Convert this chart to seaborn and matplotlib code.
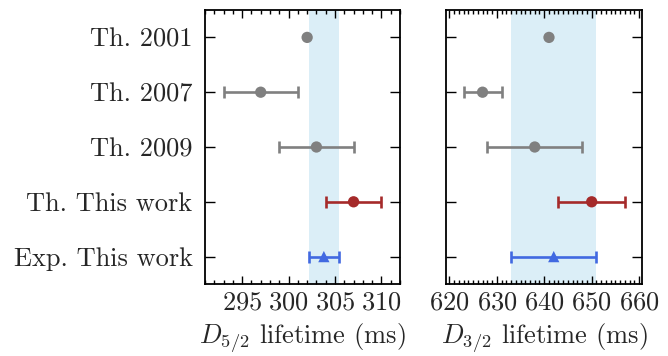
import numpy as np
import pandas as pd
import matplotlib
matplotlib.use("Agg")
import matplotlib.pyplot as plt
import seaborn as sns
from matplotlib.ticker import MultipleLocator

labels = ["Th. 2001", "Th. 2007", "Th. 2009", "Th. This work", "Exp. This work"]
d52_vals = [302.0, 297.0, 303.0, 307.0, 303.8]
d52_errs = [0.0, 4.0, 4.0, 3.0, 1.6]
d32_vals = [641.0, 627.0, 638.0, 650.0, 642.0]
d32_errs = [0.0, 4.0, 10.0, 7.0, 9.0]
colors = ["#808080", "#808080", "#808080", "#a52a2a", "#4169e1"]
markers = ["o", "o", "o", "o", "^"]

sns.set_theme(style="ticks")
plt.rcParams["font.family"] = ["cmr10", "DejaVu Serif"]
plt.rcParams["mathtext.fontset"] = "cm"
plt.rcParams["axes.formatter.use_mathtext"] = True
plt.rcParams["font.size"] = 19

fig = plt.figure(figsize=(6.68, 3.56), dpi=100)
W, H = 668, 356
ax1 = fig.add_axes([205 / W, 1 - 284 / H, 195 / W, 274 / H])
ax2 = fig.add_axes([446 / W, 1 - 284 / H, 196 / W, 274 / H])


def panel(ax, vals, errs, xlim, major, minor, xlabel):
    df = pd.DataFrame({"label": labels, "val": vals, "err": errs,
                       "pos": np.arange(len(labels))})
    exp = df.iloc[-1]
    ax.axvspan(exp["val"] - exp["err"], exp["val"] + exp["err"],
               color="#dbeef7", lw=0, zorder=0)
    for i, row in df.iterrows():
        if row["err"] > 0:
            ax.errorbar(row["val"], row["pos"], xerr=row["err"], fmt="none",
                        ecolor=colors[i], elinewidth=1.9, capsize=4,
                        capthick=1.9, zorder=2)
    sns.scatterplot(data=df, x="val", y="pos", hue="label", style="label",
                    palette=dict(zip(labels, colors)),
                    markers=dict(zip(labels, markers)),
                    s=66, edgecolor="none", legend=False, ax=ax, zorder=3)
    ax.set_xlim(*xlim)
    ax.set_ylim(4.5, -0.5)
    ax.xaxis.set_major_locator(MultipleLocator(major))
    ax.xaxis.set_minor_locator(MultipleLocator(minor))
    ax.set_yticks(df["pos"])
    ax.tick_params(axis="both", which="both", direction="in", top=True,
                   right=True, labelsize=19, width=1.0, color="black")
    ax.tick_params(axis="x", which="major", length=6, pad=5)
    ax.tick_params(axis="x", which="minor", length=3)
    ax.tick_params(axis="y", which="major", length=7, pad=9)
    ax.tick_params(axis="y", which="minor", left=False, right=False)
    ax.set_xlabel(xlabel, fontsize=19, labelpad=5)
    ax.set_ylabel("")
    for s in ax.spines.values():
        s.set_linewidth(1.3)
        s.set_color("black")


panel(ax1, d52_vals, d52_errs, (291, 312), 5, 1, r"$D_{5/2}$ lifetime (ms)")
panel(ax2, d32_vals, d32_errs, (619.3, 660.6), 10, 1, r"$D_{3/2}$ lifetime (ms)")

ax1.set_yticklabels(labels)
ax2.set_yticklabels([])

fig.savefig("out.png", dpi=100)
